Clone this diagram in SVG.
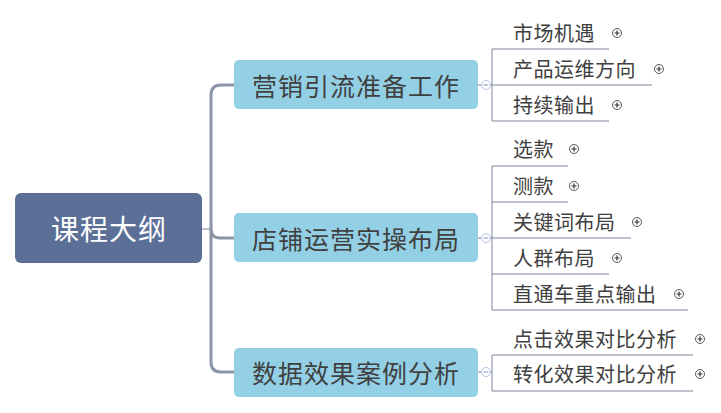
<svg xmlns="http://www.w3.org/2000/svg" width="721" height="413" viewBox="0 0 721 413">
<style>
.root{fill:#5b6f97}
.br{fill:#93d0e6}
.rt{font-family:"Noto Sans CJK SC",sans-serif;font-size:28px;fill:#ffffff;text-anchor:middle;dominant-baseline:central;letter-spacing:1px}
.bt{font-family:"Noto Sans CJK SC",sans-serif;font-size:25px;fill:#404040;text-anchor:middle;dominant-baseline:central;letter-spacing:1px}
.ct{font-family:"Noto Sans CJK SC",sans-serif;font-size:20px;fill:#404040;dominant-baseline:central;letter-spacing:0.5px}
.trunk{fill:none;stroke:#8c95a8;stroke-width:3}
.thin{fill:none;stroke:#7c8599;stroke-width:1}
.plus circle{fill:#fff;stroke:#555a66;stroke-width:1}
.plus path{stroke:#333;stroke-width:1.2}
.minus circle{fill:#fff;stroke:#b8c0e8;stroke-width:1}
.minus path{stroke:#9aa3d0;stroke-width:1.2}
</style>
<defs>
<g id="plusIcon" class="plus"><circle r="4.5"/><path d="M-2.5,0H2.5M0,-2.5V2.5"/></g>
<g id="minusIcon" class="minus"><circle r="4.5"/><path d="M-2.5,0H2.5"/></g>
</defs>
<g id="connectors">
<line class="thin" x1="202" y1="229" x2="211" y2="229" stroke="#9aa2b2"/>
<path class="trunk" d="M211,229 V95 Q211,85 221,85 H234"/>
<path class="trunk" d="M211,229 V362 Q211,372 221,372 H234"/>
<path class="trunk" d="M211,229 Q211,238 220,238 H234" stroke-width="2"/>
<line class="thin" x1="478" y1="85" x2="492" y2="85"/>
<line class="thin" x1="478" y1="238" x2="492" y2="238"/>
<line class="thin" x1="478" y1="372" x2="492" y2="372"/>
<path class="thin" d="M609,49 H492 V121 H609 M492,85 H652"/>
<path class="thin" d="M568,166 H492 V310 H688 M492,202 H568 M492,238 H631 M492,274 H609"/>
<path class="thin" d="M693,355 H492 V391 H693"/>
</g>
<g id="root"><rect class="root" x="15" y="193" width="187" height="70" rx="6"/><text class="rt" x="109" y="228">课程大纲</text></g>
<g id="b1"><rect class="br" x="234" y="60" width="244" height="49" rx="5"/><text class="bt" x="356" y="85">营销引流准备工作</text><use href="#minusIcon" x="486" y="85"/></g>
<g id="b2"><rect class="br" x="234" y="213" width="244" height="49" rx="5"/><text class="bt" x="356" y="238">店铺运营实操布局</text><use href="#minusIcon" x="486" y="238"/></g>
<g id="b3"><rect class="br" x="234" y="348" width="244" height="49" rx="5"/><text class="bt" x="356" y="372">数据效果案例分析</text><use href="#minusIcon" x="486" y="372"/></g>
<g id="c11"><text class="ct" x="513" y="32">市场机遇</text><use href="#plusIcon" x="617" y="33"/></g>
<g id="c12"><text class="ct" x="513" y="68">产品运维方向</text><use href="#plusIcon" x="659" y="69"/></g>
<g id="c13"><text class="ct" x="513" y="104">持续输出</text><use href="#plusIcon" x="617" y="105"/></g>
<g id="c21"><text class="ct" x="513" y="148">选款</text><use href="#plusIcon" x="574" y="149"/></g>
<g id="c22"><text class="ct" x="513" y="185">测款</text><use href="#plusIcon" x="574" y="186"/></g>
<g id="c23"><text class="ct" x="513" y="221">关键词布局</text><use href="#plusIcon" x="637" y="222"/></g>
<g id="c24"><text class="ct" x="513" y="257">人群布局</text><use href="#plusIcon" x="617" y="258"/></g>
<g id="c25"><text class="ct" x="513" y="293">直通车重点输出</text><use href="#plusIcon" x="679" y="294"/></g>
<g id="c31"><text class="ct" x="513" y="338">点击效果对比分析</text><use href="#plusIcon" x="700" y="339"/></g>
<g id="c32"><text class="ct" x="513" y="373">转化效果对比分析</text><use href="#plusIcon" x="700" y="374"/></g>
</svg>
